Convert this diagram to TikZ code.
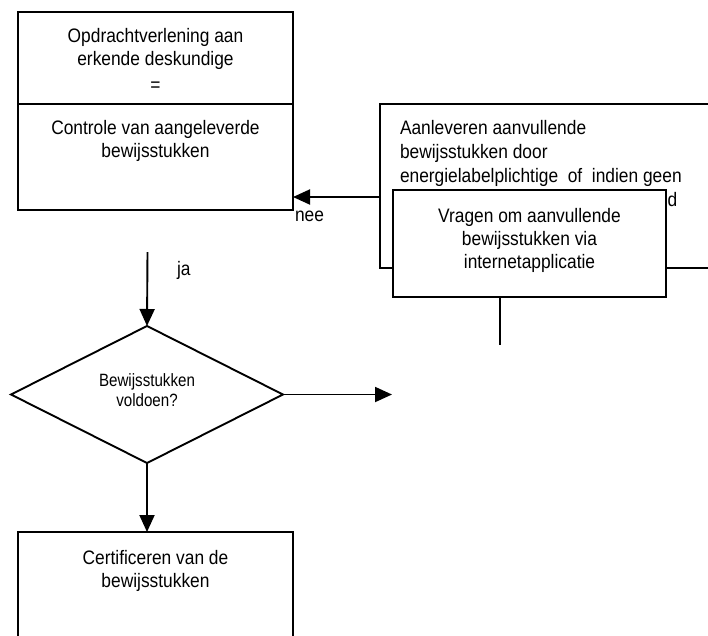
\documentclass[tikz,border=0pt]{standalone}
\usepackage{fontspec}
\setmainfont{Liberation Sans}[FakeStretch=0.89]
\newfontfamily\dfont{Liberation Sans}[FakeStretch=0.85]
\usetikzlibrary{shapes.geometric,arrows.meta}
\begin{document}
\begin{tikzpicture}[x=1pt,y=-1pt,
  box/.style={draw, rectangle, line width=1.9pt, inner sep=0pt, outer sep=0pt, fill=white},
  txt/.style={inner sep=0pt, outer sep=0pt, font=\fontsize{19.5}{23}\selectfont},
  conn/.style={line width=1.9pt},
  arr/.style={conn, -{Triangle[length=17pt,width=15pt]}}]
\useasboundingbox (0,0) rectangle (708,635);
\clip (0,0) rectangle (708,635);
% boxes
\node[box, minimum width=275pt, minimum height=140pt] (opd) at (155.5,82) {};
\node[txt, align=center, anchor=north] (opdt) at (155.5,28) {Opdrachtverlening aan\\erkende deskundige\\[3.5pt]=};
\node[box, minimum width=275pt, minimum height=106pt] (ctl) at (155.5,157) {};
\node[txt, align=center, anchor=north] (ctlt) at (155.5,120) {Controle van aangeleverde\\bewijsstukken};
\node[box, minimum width=360pt, minimum height=164pt] (aan) at (560,186) {};
\node[txt, align=left, anchor=north west, font=\fontsize{19.5}{24}\selectfont] (aant) at (400,120) {Aanleveren aanvullende\\bewijsstukken door\\energielabelplichtige\ \ of\ \ indien geen};
\node[txt, anchor=base west] (aand) at (667.5,206.7) {d};
\node[box, minimum width=273pt, minimum height=107pt] (vra) at (529.5,243.5) {};
\node[txt, align=center, anchor=north] (vrat) at (529.5,208) {Vragen om aanvullende\\bewijsstukken via\\internetapplicatie};
\node[draw, diamond, line width=1.9pt, minimum width=272pt, minimum height=137pt, inner sep=0pt, outer sep=0pt] (dia) at (147,394.5) {};
\node[txt, align=center, anchor=north, font=\dfont\fontsize{17.8}{20}\selectfont] (diat) at (147,374) {Bewijsstukken\\voldoen?};
\node[box, minimum width=275pt, minimum height=118pt] (cer) at (155.5,591) {};
\node[txt, align=center, anchor=north] (cert) at (155.5,550) {Certificeren van de\\bewijsstukken};
% labels
\node[txt, anchor=base west] (nee) at (295,221.7) {nee};
\node[txt, anchor=base west] (ja) at (177,275) {ja};
% connectors
\coordinate (jas) at (147.5,252);
\draw[arr] (jas) -- (dia.north);
\draw[arr] ([yshift=-11pt]aan.west) -- ([yshift=-11pt]aan.west -| ctl.east);
\coordinate (noend) at (392,394.5);
\draw[arr] (dia.east) -- (noend);
\draw[arr] (dia.south) -- (dia.south |- cer.north);
\coordinate (vend) at (500,345);
\draw[conn] (vend |- vra.south) -- (vend);
\end{tikzpicture}
\end{document}
